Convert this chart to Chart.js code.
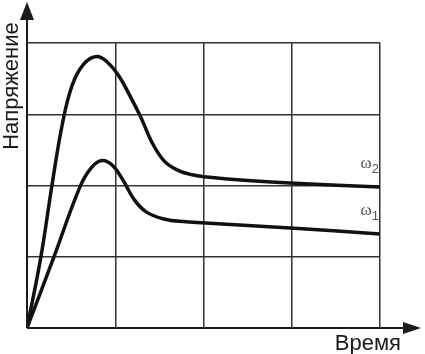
<!DOCTYPE html>
<html>
<head>
<meta charset="utf-8">
<script src="https://cdn.jsdelivr.net/npm/chart.js@4.4.0/dist/chart.umd.min.js"></script>
<style>
  html, body { margin: 0; padding: 0; background: #fff; }
  #wrap { width: 425px; height: 354px; }
</style>
</head>
<body>
<div id="wrap"><canvas id="chart"></canvas></div>
<script>
// Curve ω2 (upper)
const w2Time = [0, 0.155, 0.28, 0.40, 0.51, 0.64, 0.79, 0.92, 1.05, 1.17, 1.30, 1.41, 1.55, 1.70, 1.87, 2.04, 2.5, 3.03, 4.0];
const w2Volt = [0, 0.98, 1.98, 2.86, 3.40, 3.70, 3.81, 3.72, 3.52, 3.25, 2.93, 2.62, 2.35, 2.22, 2.15, 2.12, 2.07, 2.03, 1.98];

// Curve ω1 (lower)
const w1Time = [0, 0.30, 0.60, 0.73, 0.85, 0.97, 1.09, 1.21, 1.35, 1.55, 1.80, 2.07, 3.03, 4.0];
const w1Volt = [0, 0.98, 1.98, 2.25, 2.35, 2.28, 2.07, 1.81, 1.63, 1.53, 1.49, 1.47, 1.40, 1.32];

const yTitle = 'Напряжение';
const xTitle = 'Время';

const toPoints = (xs, ys) => xs.map((x, i) => ({x, y: ys[i]}));

// Axis arrows, titles and curve labels
const decorPlugin = {
    id: 'decor',
    afterDraw(chart) {
        const {ctx, chartArea: a, scales: {x, y}} = chart;
        ctx.save();
        ctx.strokeStyle = '#1a1a1a';
        ctx.fillStyle = '#1a1a1a';
        ctx.lineWidth = 2;

        // y axis
        ctx.beginPath();
        ctx.moveTo(a.left, a.bottom);
        ctx.lineTo(a.left, 14);
        ctx.stroke();
        ctx.beginPath();
        ctx.moveTo(a.left, 2);
        ctx.lineTo(a.left - 7, 20);
        ctx.lineTo(a.left + 7, 20);
        ctx.closePath();
        ctx.fill();

        // x axis
        ctx.beginPath();
        ctx.moveTo(a.left, a.bottom);
        ctx.lineTo(410, a.bottom);
        ctx.stroke();
        ctx.beginPath();
        ctx.moveTo(421, a.bottom);
        ctx.lineTo(403, a.bottom - 6);
        ctx.lineTo(403, a.bottom + 6);
        ctx.closePath();
        ctx.fill();

        // titles
        ctx.fillStyle = '#1a1a1a';
        ctx.font = '22px "Liberation Sans", Arial, sans-serif';
        ctx.textAlign = 'right';
        ctx.textBaseline = 'alphabetic';
        ctx.fillText(xTitle, 401, 350);

        ctx.save();
        ctx.translate(18, 86);
        ctx.rotate(-Math.PI / 2);
        ctx.textAlign = 'center';
        ctx.fillText(yTitle, 0, 0);
        ctx.restore();

        // curve labels
        ctx.fillStyle = '#555';
        const label = (sub, px, py) => {
            ctx.font = '17px "Liberation Serif", serif';
            ctx.textAlign = 'left';
            ctx.fillText('ω', px, py);
            const w = ctx.measureText('ω').width;
            ctx.font = '13px "Liberation Sans", Arial, sans-serif';
            ctx.fillText(sub, px + w, py + 5);
        };
        label('2', x.getPixelForValue(3.78), y.getPixelForValue(2.25));
        label('1', x.getPixelForValue(3.78), y.getPixelForValue(1.58));
        ctx.restore();
    }
};

const lineStyle = {
    borderColor: '#111',
    borderWidth: 3.5,
    pointRadius: 0,
    fill: false,
    tension: 0.4
};

new Chart(document.getElementById('chart'), {
    type: 'scatter',
    data: {
        datasets: [
            {label: 'ω2', data: toPoints(w2Time, w2Volt), showLine: true, ...lineStyle},
            {label: 'ω1', data: toPoints(w1Time, w1Volt), showLine: true, ...lineStyle}
        ]
    },
    options: {
        responsive: true,
        maintainAspectRatio: false,
        animation: false,
        layout: {padding: {left: 27, right: 45, top: 43, bottom: 26}},
        scales: {
            x: {
                type: 'linear', min: 0, max: 4,
                ticks: {display: false, stepSize: 1},
                border: {display: false},
                grid: {color: '#333', lineWidth: 1.5, drawTicks: false}
            },
            y: {
                type: 'linear', min: 0, max: 4,
                ticks: {display: false, stepSize: 1},
                border: {display: false},
                grid: {color: '#333', lineWidth: 1.5, drawTicks: false}
            }
        },
        plugins: {legend: {display: false}, tooltip: {enabled: false}}
    },
    plugins: [decorPlugin]
});
</script>
</body>
</html>
